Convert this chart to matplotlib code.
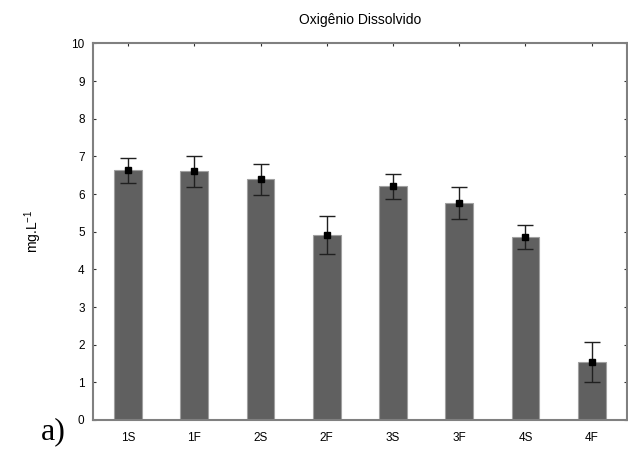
import matplotlib
matplotlib.use("Agg")
import matplotlib.pyplot as plt
import numpy as np

# --- dados ---
pontos = ["1S", "1F", "2S", "2F", "3S", "3F", "4S", "4F"]
media = [6.63, 6.60, 6.39, 4.92, 6.21, 5.76, 4.87, 1.55]
erro = [0.33, 0.41, 0.41, 0.50, 0.33, 0.42, 0.32, 0.53]

plt.rcParams["font.family"] = ["Liberation Sans", "DejaVu Sans"]
plt.rcParams["mathtext.fontset"] = "custom"
plt.rcParams["mathtext.rm"] = "Liberation Sans"

fig = plt.figure(figsize=(6.28, 4.57), dpi=100)
ax = fig.add_axes([0.148, 0.081, 0.850, 0.824])

x = np.arange(len(pontos))
ax.bar(x, media, width=0.42, color="#606060", edgecolor="#a0a0a0", linewidth=0.8, zorder=2)
ax.errorbar(x, media, yerr=erro, fmt="s", color="black", ms=5, ecolor="#202020",
            elinewidth=1, capsize=6, capthick=1, zorder=3)

ax.set_xlim(-0.53, 7.53)
ax.set_ylim(0, 10)
ax.set_yticks(range(0, 11))
ax.set_xticks(x)
ax.set_xticklabels(pontos)
ax.tick_params(direction="in", length=2.5, width=0.8, color="#303030",
               labelsize=8.5, top=True, right=True, pad=6)
ax.tick_params(axis="x", pad=9)

for s in ax.spines.values():
    s.set_color("#808080")
    s.set_linewidth(1.5)

ax.set_title("Oxigênio Dissolvido", fontsize=10, pad=14)
ax.set_ylabel("mg.L$\\mathregular{^{-1}}$", fontsize=10, labelpad=20)

fig.text(0.065, 0.055, "a)", fontsize=23, family="Liberation Serif", va="center")

fig.savefig("out.png", dpi=100)
